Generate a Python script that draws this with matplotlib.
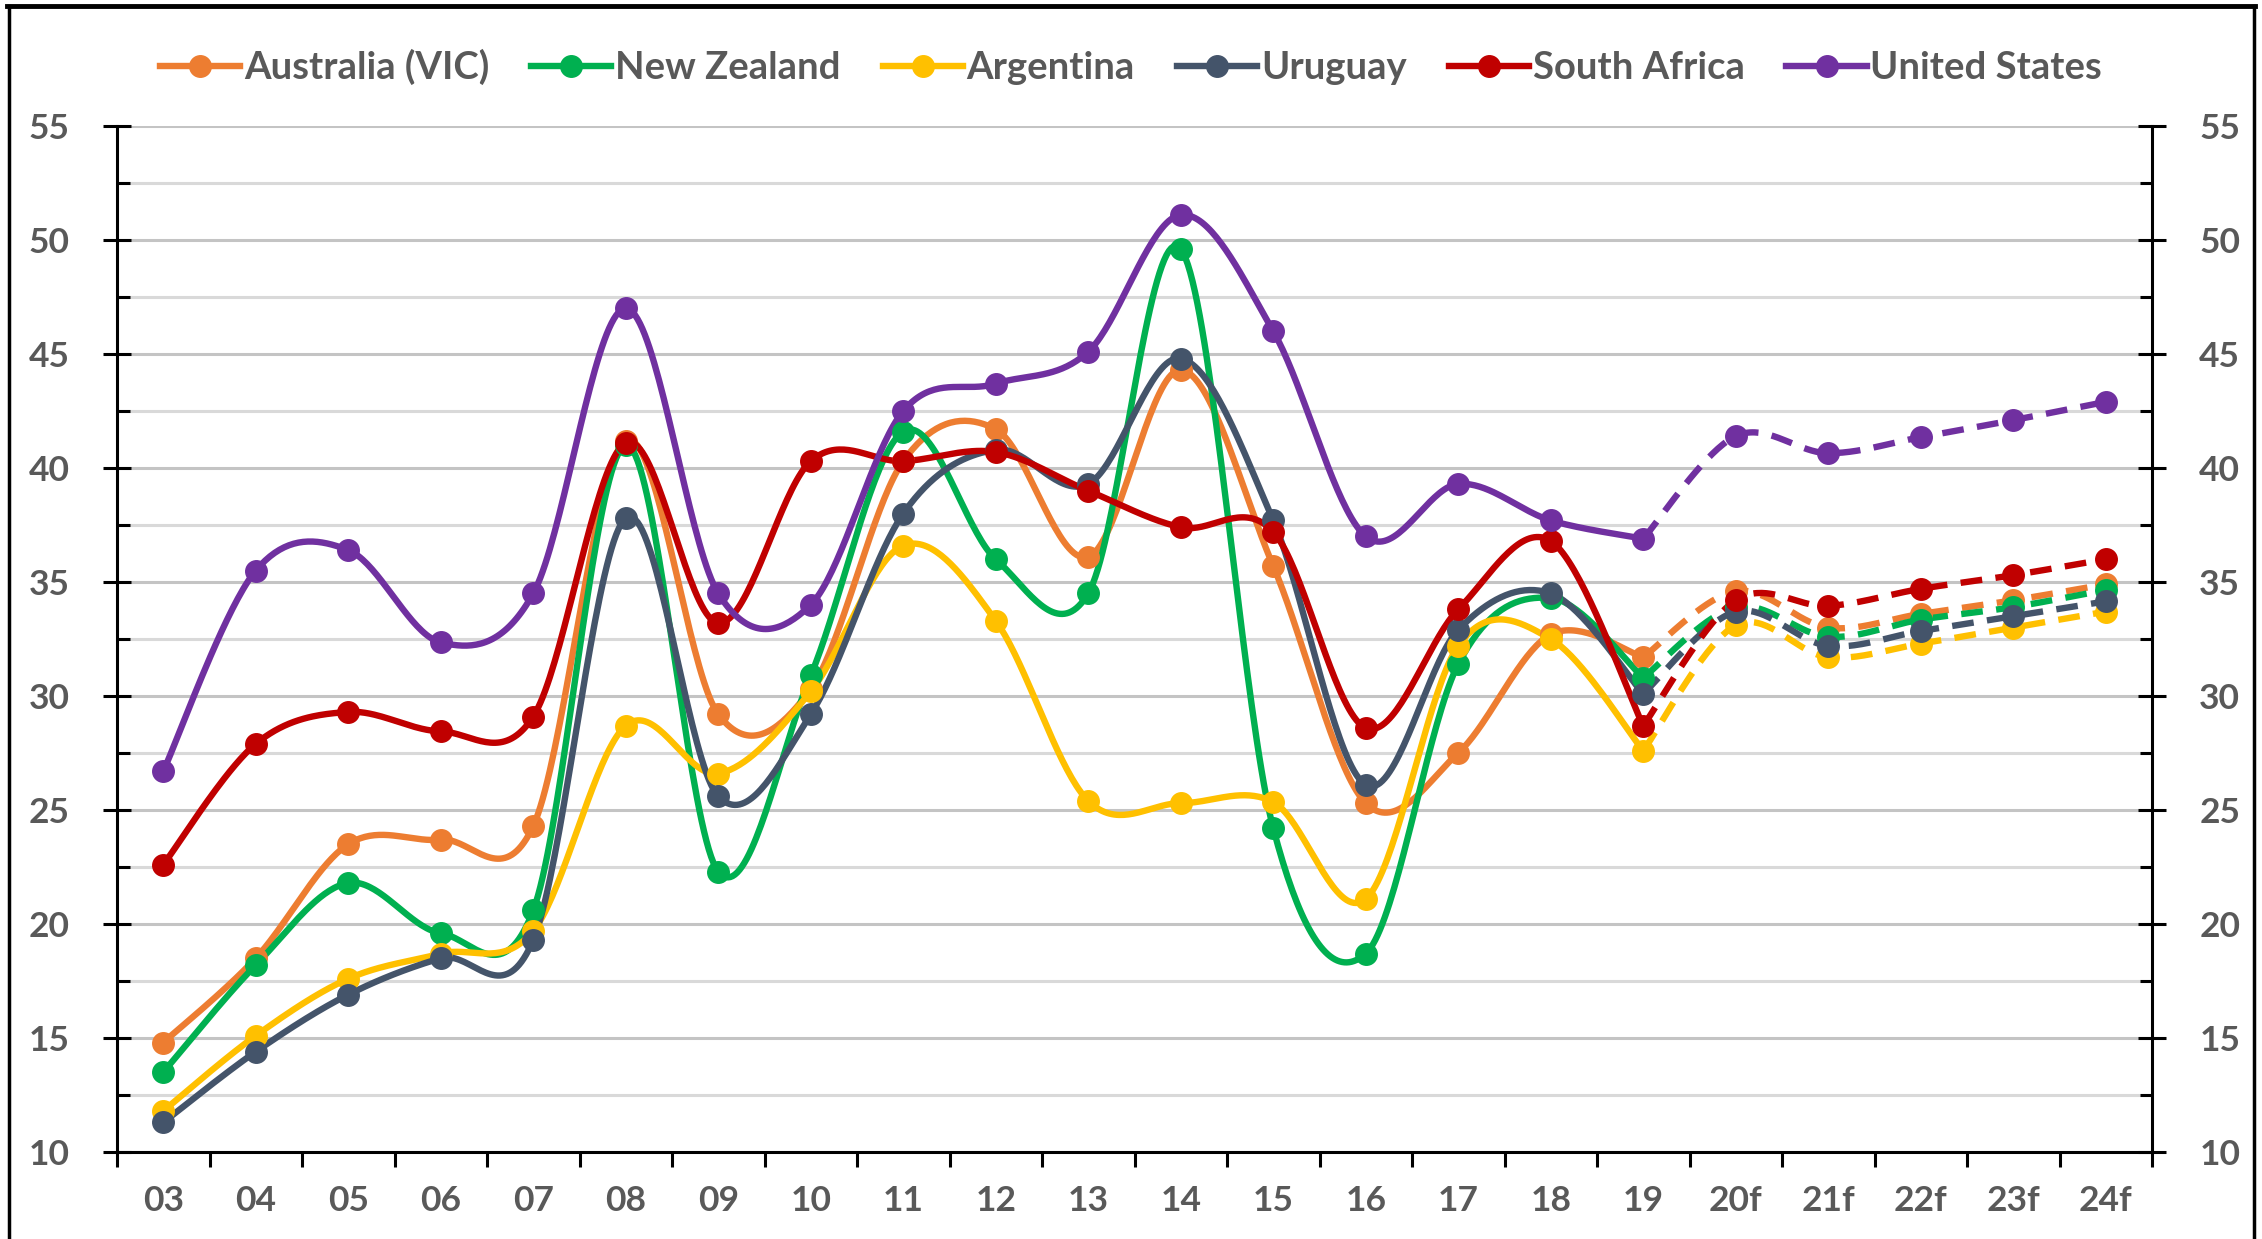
import numpy as np
import matplotlib.pyplot as plt
from matplotlib.lines import Line2D
from matplotlib.ticker import MultipleLocator, FixedLocator

# categories (f = forecast)
years = ['03', '04', '05', '06', '07', '08', '09', '10', '11', '12', '13',
         '14', '15', '16', '17', '18', '19', '20f', '21f', '22f', '23f', '24f']

australia = [14.8, 18.5, 23.5, 23.7, 24.3, 41.2, 29.2, 30.3, 40.3, 41.7, 36.1,
             44.3, 35.7, 25.3, 27.5, 32.7, 31.7, 34.6, 33.0, 33.6, 34.2, 34.9]
new_zealand = [13.5, 18.2, 21.8, 19.6, 20.6, 41.0, 22.3, 30.9, 41.6, 36.0, 34.5,
               49.6, 24.2, 18.7, 31.4, 34.3, 30.8, 33.9, 32.6, 33.35, 33.9, 34.65]
argentina = [11.8, 15.1, 17.6, 18.7, 19.7, 28.7, 26.6, 30.2, 36.6, 33.3, 25.4,
             25.3, 25.35, 21.1, 32.2, 32.5, 27.6, 33.1, 31.7, 32.3, 33.0, 33.7]
uruguay = [11.3, 14.4, 16.9, 18.5, 19.3, 37.8, 25.6, 29.2, 38.0, 40.8, 39.3,
           44.8, 37.7, 26.1, 32.9, 34.5, 30.1, 33.7, 32.2, 32.85, 33.5, 34.15]
south_africa = [22.6, 27.9, 29.3, 28.45, 29.1, 41.1, 33.2, 40.3, 40.3, 40.7, 39.0,
                37.4, 37.2, 28.6, 33.8, 36.8, 28.7, 34.2, 33.95, 34.7, 35.3, 36.0]
united_states = [26.7, 35.5, 36.4, 32.35, 34.5, 47.0, 34.5, 34.0, 42.5, 43.7, 45.1,
                 51.1, 46.0, 37.0, 39.3, 37.7, 36.9, 41.4, 40.65, 41.35, 42.1, 42.9]

names = ['Australia (VIC)', 'New Zealand', 'Argentina', 'Uruguay', 'South Africa', 'United States']
colors = ['#ED7D31', '#00B050', '#FFC000', '#44546A', '#C00000', '#7030A0']
series = [australia, new_zealand, argentina, uruguay, south_africa, united_states]
last_actual = years.index('19')


def smooth(xs, ys, n=40):
    # Excel-like smoothed line (Catmull-Rom as cubic Bezier)
    p = np.column_stack([xs, ys]).astype(float)
    out = []
    t = np.linspace(0, 1, n)[:, None]
    for i in range(len(p) - 1):
        p0 = p[i - 1] if i > 0 else p[i]
        p1, p2 = p[i], p[i + 1]
        p3 = p[i + 2] if i + 2 < len(p) else p[i + 1]
        c1 = p1 + (p2 - p0) / 6
        c2 = p2 - (p3 - p1) / 6
        seg = (1 - t) ** 3 * p1 + 3 * (1 - t) ** 2 * t * c1 + 3 * (1 - t) * t ** 2 * c2 + t ** 3 * p2
        out.append(seg if i == 0 else seg[1:])
    out = np.vstack(out)
    return out[:, 0], out[:, 1]


plt.rcParams['font.family'] = ['Lato', 'DejaVu Sans']
grey = '#595959'

fig = plt.figure(figsize=(22.62, 12.39), dpi=100)
ax = fig.add_axes([117 / 2262, 1 - 1152 / 1239, (2152 - 117) / 2262, (1152 - 126) / 1239])

x = np.arange(len(years))
for name, col, vals in zip(names, colors, series):
    vals = np.array(vals)
    sx, sy = smooth(x[:last_actual + 1], vals[:last_actual + 1])
    ax.plot(sx, sy, color=col, lw=4.6, solid_capstyle='round', zorder=3)
    fx, fy = smooth(x[last_actual:], vals[last_actual:])
    ax.plot(fx, fy, color=col, lw=4.6, dashes=(3.4, 2.1), zorder=3)
    ax.plot(x, vals, 'o', color=col, ms=15.5, zorder=4)

ax.set_xlim(-0.5, len(years) - 0.5)
ax.set_ylim(10, 55)

# y grid + ticks
ax.yaxis.set_major_locator(MultipleLocator(5))
ax.yaxis.set_minor_locator(MultipleLocator(2.5))
ax.grid(axis='y', which='major', color='#c4c4c4', lw=2.2, zorder=0)
ax.grid(axis='y', which='minor', color='#d9d9d9', lw=2.2, zorder=0)
ax.tick_params(axis='y', which='major', direction='inout', length=20, width=2.2,
               left=True, right=True, labelleft=True, labelright=True,
               labelsize=25.5, labelcolor=grey, pad=24)
ax.tick_params(axis='y', which='minor', direction='in', length=9, width=2.2,
               left=True, right=True)
for lab in ax.get_yticklabels():
    lab.set_fontweight('bold')

# x: labels at centres, ticks on category boundaries
ax.set_xticks(x)
ax.set_xticklabels(years, fontsize=25.5, color=grey, fontweight='bold')
ax.xaxis.set_minor_locator(FixedLocator(np.arange(-0.5, len(years), 1.0)))
ax.tick_params(axis='x', which='major', length=0, pad=24)
ax.tick_params(axis='x', which='minor', direction='out', length=11, width=2.2)

for s in ['left', 'right', 'bottom']:
    ax.spines[s].set_linewidth(2.2)
    ax.spines[s].set_color('black')
ax.spines['top'].set_visible(False)

handles = [Line2D([], [], color=c, lw=4.6, marker='o', ms=15.5) for c in colors]
fig.legend(handles, names, loc='center', bbox_to_anchor=(0.5, 1 - 67 / 1239), ncol=6,
           frameon=False, handlelength=2.1, handletextpad=0.1, columnspacing=1.1,
           prop={'size': 27.5, 'weight': 'bold'}, labelcolor=grey)

# outer frame
fig.add_artist(Line2D([0.003, 0.997], [0.995, 0.995], color='black', lw=3.5, transform=fig.transFigure))
fig.add_artist(Line2D([0.004, 0.004], [0.0, 0.995], color='black', lw=2.5, transform=fig.transFigure))
fig.add_artist(Line2D([0.9965, 0.9965], [0.0, 0.995], color='black', lw=2.5, transform=fig.transFigure))

fig.savefig('out.png', dpi=100)
